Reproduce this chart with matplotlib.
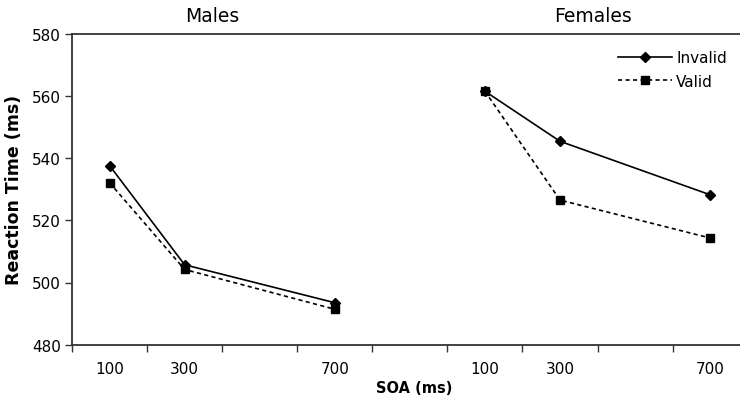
import matplotlib
matplotlib.use("Agg")
import matplotlib.pyplot as plt
import numpy as np

soa_labels = ["100", "300", "700", "100", "300", "700"]
positions = [0, 1, 3, 5, 6, 8]
n_categories = 9
groups = ["Males", "Females"]
invalid_males = [537.6, 505.7, 493.5]
valid_males = [532.1, 504.2, 491.4]
invalid_females = [561.5, 545.4, 528.2]
valid_females = [561.5, 526.5, 514.3]

plt.rcParams['font.family'] = ['DejaVu Sans']
fig = plt.figure(figsize=(7.4, 4.06), dpi=100)
ax = fig.add_axes([72/740, 1-345.7/406, (747.7-72)/740, (345.7-34.7)/406])

lw = 1.2
ms_d = 5.5
ms_s = 5.8
ax.plot(positions[:3], invalid_males, color='black', lw=lw, marker='D', ms=ms_d, label='Invalid')
ax.plot(positions[:3], valid_males, color='black', lw=lw, marker='s', ms=ms_s, ls=(0, (2.5, 2)), label='Valid')
ax.plot(positions[3:], invalid_females, color='black', lw=lw, marker='D', ms=ms_d)
ax.plot(positions[3:], valid_females, color='black', lw=lw, marker='s', ms=ms_s, ls=(0, (2.5, 2)))

ax.set_xlim(-0.5, n_categories - 0.5)
ax.set_ylim(480, 580)
ax.set_yticks(np.arange(480, 581, 20))
ax.set_xticks(np.arange(-0.5, n_categories, 1.0))
ax.set_xticklabels([])
ax.set_xticks(positions, minor=True)
ax.set_xticklabels(soa_labels, minor=True)
ax.tick_params(axis='x', which='minor', length=0, pad=12, labelsize=11)
ax.tick_params(axis='x', which='major', length=5, width=1, direction='out', color='#333333')
ax.tick_params(axis='y', length=5, width=1, direction='out', color='#333333', labelsize=11, pad=3)

for s in ['left', 'bottom', 'top']:
    ax.spines[s].set_color('#333333')
    ax.spines[s].set_linewidth(1.3)
ax.spines['right'].set_visible(False)

fig.text(14/740, 1-190/406, 'Reaction Time (ms)', fontweight='bold', fontsize=12.5,
         rotation=90, ha='center', va='center')
fig.text(414/740, 1-389/406, 'SOA (ms)', fontweight='bold', fontsize=10.5, ha='center', va='center')
fig.text(212/740, 1-17/406, groups[0], fontsize=13.5, ha='center', va='center')
fig.text(593/740, 1-17/406, groups[1], fontsize=13.5, ha='center', va='center')

leg = ax.legend(loc='upper right', bbox_to_anchor=(733/740, 1-45/406), bbox_transform=fig.transFigure,
                frameon=False, fontsize=11, handlelength=3.5, handletextpad=0.3, labelspacing=0.55,
                borderaxespad=0)

fig.savefig('out.png', dpi=100)
